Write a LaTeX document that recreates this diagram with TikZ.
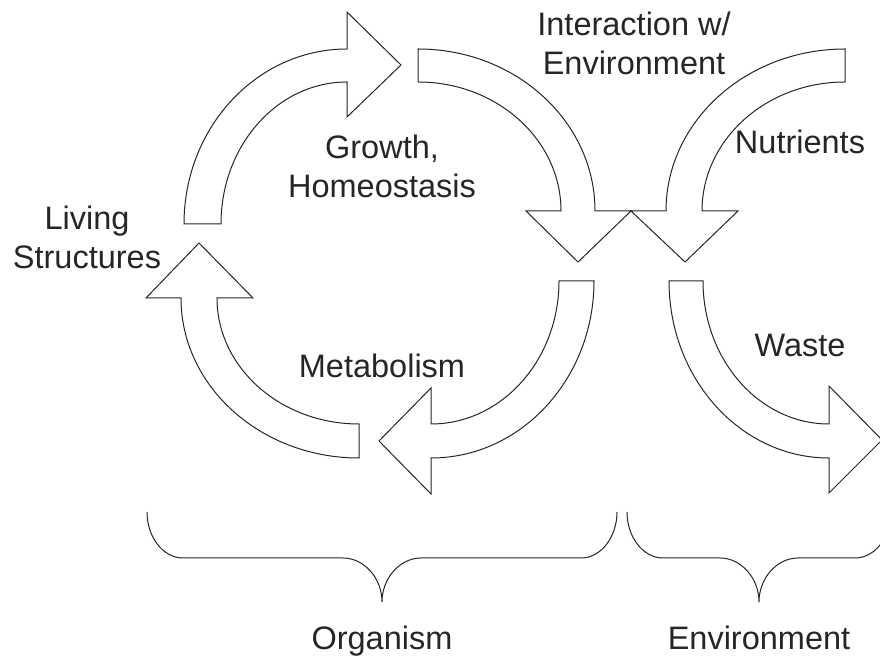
\documentclass[tikz,border=0pt]{standalone}
\usepackage{fontspec}
\setmainfont{Liberation Sans}
\usepackage{tikz}
\tikzset{>=latex}
\tikzset{
  bigarrow/.style={draw=black!85, line width=1pt, fill=white, line join=miter},
  lbl/.style={font=\fontsize{32.5}{39}\selectfont, text=black!85, inner sep=0pt, anchor=base, align=center},
  bracket/.style={draw=black!85, line width=1pt}
}

\begin{document}
\begin{tikzpicture}[x=1pt,y=1pt]
\useasboundingbox (0,0) rectangle (880,658);
% curved block arrows
\draw [bigarrow] (184,434) arc[start angle=180,end angle=90,x radius=163pt,y radius=175pt] -- (347,646) -- (401,593) -- (347,541) -- (347,576) arc[start angle=90,end angle=180,x radius=126pt,y radius=142pt] -- cycle;
\draw [bigarrow] (418,609) arc[start angle=90,end angle=0,x radius=177pt,y radius=162pt] -- (631,447) -- (578,396) -- (526,447) -- (561,447) arc[start angle=0,end angle=90,x radius=143pt,y radius=129pt] -- cycle;
\draw [bigarrow] (845,609) arc[start angle=90,end angle=180,x radius=179pt,y radius=162pt] -- (631,447) -- (685,396) -- (738,447) -- (702,447) arc[start angle=180,end angle=90,x radius=143pt,y radius=129pt] -- cycle;
\draw [bigarrow] (669,377) arc[start angle=180,end angle=270,x radius=160pt,y radius=177pt] -- (829,165) -- (882,218) -- (829,272) -- (829,234) arc[start angle=270,end angle=180,x radius=126pt,y radius=143pt] -- cycle;
\draw [bigarrow] (594,377) arc[start angle=0,end angle=-90,x radius=163pt,y radius=177pt] -- (431,164) -- (379,217) -- (431,270) -- (431,234) arc[start angle=-90,end angle=0,x radius=128pt,y radius=143pt] -- cycle;
\draw [bigarrow] (359,200) arc[start angle=270,end angle=180,x radius=178pt,y radius=160pt] -- (146,360) -- (199,415) -- (253,360) -- (217,360) arc[start angle=180,end angle=270,x radius=142pt,y radius=126pt] -- cycle;
% labels (base = last line)
\node [lbl] (growth) at (382,460) {Growth,\\Homeostasis};
\node [lbl] (interaction) at (634,583) {Interaction w/\\Environment};
\node [lbl] (nutrients) at (800,504) {Nutrients};
\node [lbl] (living) at (87,389) {Living\\Structures};
\node [lbl] (metabolism) at (382,280) {Metabolism};
\node [lbl] (waste) at (800,301) {Waste};
% braces
\draw [bracket] (147,146) .. controls (147,121) and (163,100) .. (183,100) -- (343,100) .. controls (364,100) and (382,80) .. (382,56) .. controls (382,80) and (400,100) .. (421,100) -- (581,100) .. controls (601,100) and (617,121) .. (617,146);
\draw [bracket] (627,146) .. controls (627,121) and (643,100) .. (663,100) -- (720,100) .. controls (741,100) and (759,80) .. (759,56) .. controls (759,80) and (777,100) .. (798,100) -- (855,100) .. controls (875,100) and (891,121) .. (891,146);
\node [lbl] (organism) at (382,9) {Organism};
\node [lbl] (environment) at (759,9) {Environment};
\end{tikzpicture}
\end{document}
